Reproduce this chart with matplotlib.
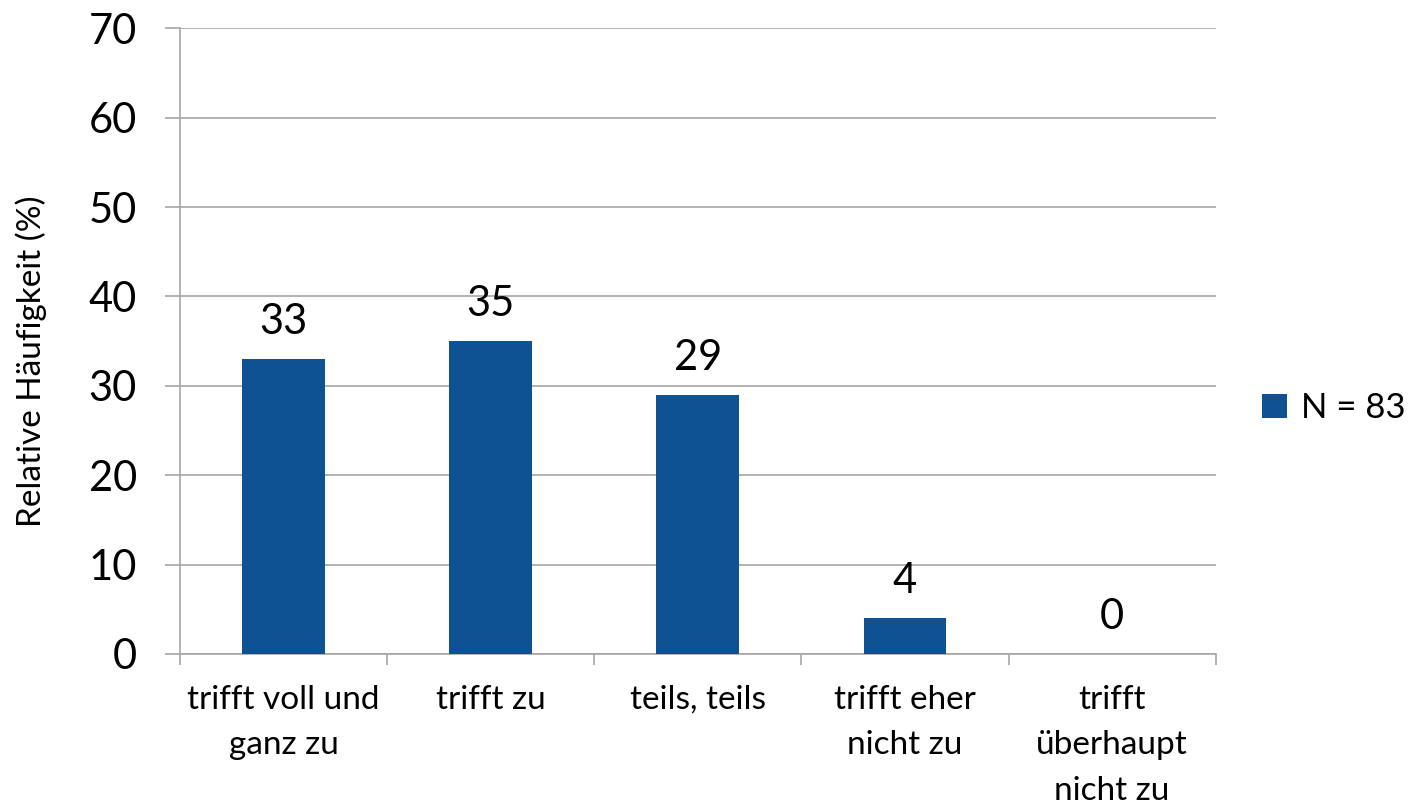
import numpy as np
import matplotlib.pyplot as plt

categories = ["trifft voll und\nganz zu", "trifft zu", "teils, teils",
              "trifft eher\nnicht zu", "trifft\nüberhaupt\nnicht zu"]
values = [33, 35, 29, 4, 0]
series_name = "N = 83"

plt.rcParams['font.family'] = ['Lato', 'DejaVu Sans']

bar_color = '#0F5294'
grid_color = '#A6A6A6'

fig = plt.figure(figsize=(14.12, 8.08), dpi=100)
ax = fig.add_axes([0.1275, 0.1906, 0.7335, 0.7744])

x = np.arange(len(categories))
bars = ax.bar(x, values, width=0.4, color=bar_color, label=series_name, zorder=3)

# value labels above the bars
for xi, v in zip(x, values):
    ax.text(xi, v + 2.0, str(v), ha='center', va='bottom', fontsize=30)

ax.set_xlim(-0.5, len(categories) - 0.5)
ax.set_ylim(0, 70)
ax.set_yticks(range(0, 71, 10))
ax.tick_params(axis='y', labelsize=30, length=11, width=1.2, color=grid_color, pad=20)

# category labels sit between the boundary ticks
ax.set_xticks(np.arange(-0.5, len(categories), 1))
ax.set_xticklabels([])
ax.set_xticks(x, minor=True)
ax.set_xticklabels(categories, minor=True, fontsize=24, linespacing=1.65, va='top')
ax.tick_params(axis='x', which='major', length=8, width=1.2, color=grid_color)
ax.tick_params(axis='x', which='minor', length=0, pad=22)

ax.grid(axis='y', color=grid_color, linewidth=1.2, zorder=0)
for s in ['top', 'right']:
    ax.spines[s].set_visible(False)
for s in ['left', 'bottom']:
    ax.spines[s].set_color(grid_color)
    ax.spines[s].set_linewidth(1.2)

ax.set_ylabel("Relative Häufigkeit (%)", fontsize=24, va='center')
ax.yaxis.set_label_coords(-0.1438, 0.468)

fig.legend(handles=[bars], labels=[series_name], loc='center left',
           bbox_to_anchor=(0.894, 0.495), frameon=False, fontsize=25,
           borderpad=0, borderaxespad=0,
           handlelength=0.7, handleheight=0.7, handletextpad=0.4)

fig.savefig("out.png", dpi=100)
